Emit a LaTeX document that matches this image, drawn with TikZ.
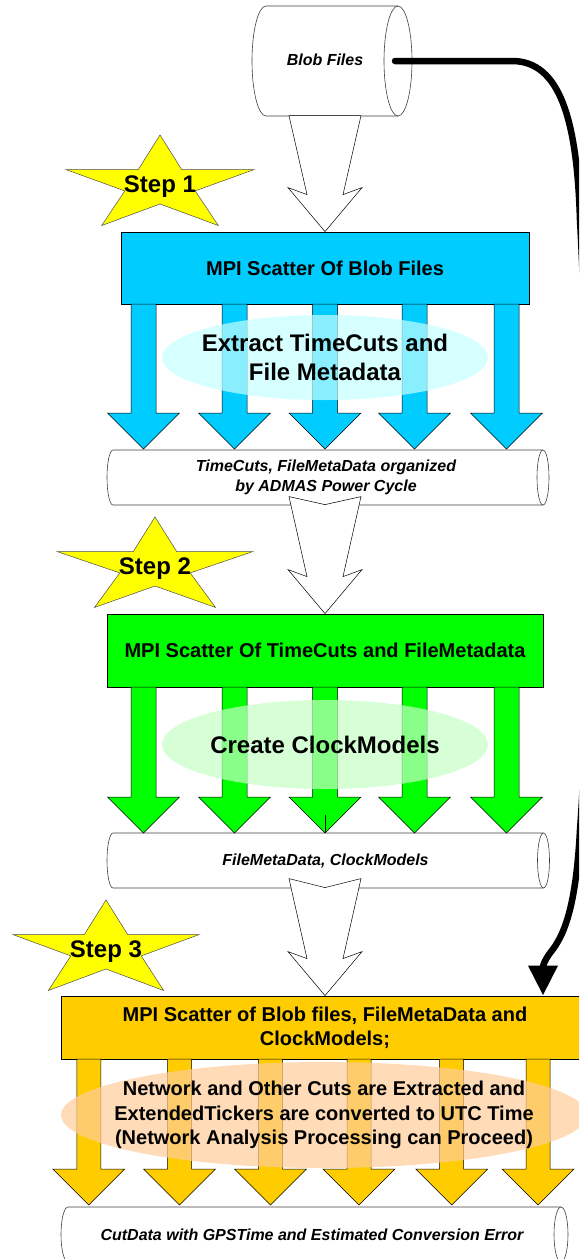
\documentclass[tikz,border=0pt]{standalone}
\usepackage{fontspec}
\setmainfont{Liberation Sans}
\usetikzlibrary{calc,arrows.meta}

\definecolor{scancyan}{HTML}{00CCFF}
\definecolor{scangreen}{HTML}{00FF00}
\definecolor{scanamber}{HTML}{FFCC00}
\definecolor{starfill}{HTML}{FFFF00}
\definecolor{haloblue}{HTML}{C4FFFF}
\definecolor{halogreen}{HTML}{C4FFC4}
\definecolor{halopeach}{HTML}{FFCC99}

\begin{document}
\begin{tikzpicture}[x=1pt,y=-1pt,
    scatterbox/.style={draw=black, line width=0.8pt, inner sep=0pt, align=center,
        font=\bfseries\fontsize{20}{24}\selectfont},
    store/.style={draw=black!75, line width=0.6pt, fill=white},
    storetext/.style={inner sep=0pt, align=center, font=\bfseries\itshape\fontsize{16}{19.5}\selectfont},
    halo/.style={fill opacity=0.7},
    halotext/.style={align=center, inner sep=0pt},
    chunk/.style={draw=black, line width=0.5pt},
    hollow/.style={draw=black, line width=0.5pt, fill=white},
    stepstar/.style={draw=black!70, line width=0.5pt, fill=starfill},
    steplabel/.style={font=\bfseries\fontsize{24}{28}\selectfont},
    feed/.style={line width=6.5pt, line cap=round, -{Triangle[length=30pt,width=28pt]}}
]
    \clip (0,0) rectangle (579,1259);

    % data stores (lying cylinders): left bulge, end radius, right end, top, bottom
    \foreach \l/\xr/\r/\t/\b in {252/14/398/6/116,107/6/543/450/505,107/6/543.5/833/888,61/7/561/1207/1262} {
        \pgfmathsetmacro{\yr}{(\b-\t)/2}
        \draw[store] (\l+\xr,\t) -- (\r,\t) arc[start angle=90, end angle=-90, x radius=\xr pt, y radius=\yr pt]
            -- (\l+\xr,\b) arc[start angle=270, end angle=90, x radius=\xr pt, y radius=\yr pt] -- cycle;
        \draw[store, fill=none] (\r,\t) arc[start angle=90, end angle=270, x radius=\xr pt, y radius=\yr pt];
    }
    \node[storetext] (blob) at (325,60) {Blob Files};

    % Step 1
    \node[scatterbox, fill=scancyan, minimum width=408pt, minimum height=72pt] (scatter1) at (325,268) {MPI Scatter Of Blob Files};
    \foreach \x in {143.5,234.5,325,414.5,506.5}
        \draw[chunk, fill=scancyan] (\x-12.5,304) -- (\x+12.5,304) -- (\x+12.5,413) -- (\x+36,413)
            -- (\x,449) -- (\x-36,413) -- (\x-12.5,413) -- cycle;
    \path[halo, fill=haloblue] (325,357.5) ellipse [x radius=163pt, y radius=42.5pt];
    \node[halotext, font=\bfseries\fontsize{24}{29}\selectfont] (extract) at (325,357.5) {Extract TimeCuts and\\File Metadata};
    \node[storetext] (timecuts) at (326,477.5) {TimeCuts, FileMetaData organized\\by ADMAS Power Cycle};

    % Step 2
    \node[scatterbox, fill=scangreen, minimum width=436pt, minimum height=73pt] (scatter2) at (325,650.5) {MPI Scatter Of TimeCuts and FileMetadata};
    \foreach \x in {143.5,234.5,325,414.5,506.5}
        \draw[chunk, fill=scangreen] (\x-12.5,687) -- (\x+12.5,687) -- (\x+12.5,797) -- (\x+36,797)
            -- (\x,833) -- (\x-36,797) -- (\x-12.5,797) -- cycle;
    \draw[line width=0.6pt] (325,815) -- (325,833);
    \path[halo, fill=halogreen] (325,744.5) ellipse [x radius=163pt, y radius=44.5pt];
    \node[halotext, font=\bfseries\fontsize{24}{29}\selectfont] (clock) at (325,744.5) {Create ClockModels};
    \node[storetext] (clockstore) at (325.5,860.5) {FileMetaData, ClockModels};

    % Step 3
    \node[scatterbox, fill=scanamber, minimum width=528pt, minimum height=63pt] (scatter3) at (325,1027.5)
        {MPI Scatter of Blob files, FileMetaData and\\ClockModels;};
    \foreach \x in {88.8,179.5,270.5,359,451.7,538}
        \draw[chunk, fill=scanamber] (\x-12,1059) -- (\x+12,1059) -- (\x+12,1169) -- (\x+36,1169)
            -- (\x,1205) -- (\x-36,1169) -- (\x-12,1169) -- cycle;
    \path[halo, fill=halopeach] (324,1115) ellipse [x radius=263pt, y radius=53pt];
    \node[halotext, font=\bfseries\fontsize{20}{24.5}\selectfont] (network) at (324,1115)
        {Network and Other Cuts are Extracted and\\ExtendedTickers are converted to UTC Time\\(Network Analysis Processing can Proceed)};
    \node[storetext] (cutdata) at (312,1235) {CutData with GPSTime and Estimated Conversion Error};

    % hollow arrows between the stages
    \foreach \b/\h/\n in {scatter1/116/0,scatter2/117/8,scatter3/117/9}
        \draw[hollow, shift={(\b.north)}] (-36,-\h) -- (0,-\h+\n) -- (36,-\h) -- (18,-37) -- (37,-44)
            -- (0,0) -- (-37,-44) -- (-18,-37) -- cycle;

    % stars
    \foreach \cx/\cy/\r/\k in {160/185/99/1,155/567/103/2,106/950/98/3} {
        \draw[stepstar] ($(\cx,\cy)+(270:{\r} and 50)$)
            \foreach \i in {0,...,4} { -- ($(\cx,\cy)+(306+72*\i:37 and 19)$) -- ($(\cx,\cy)+(342+72*\i:{\r} and 50)$) } -- cycle;
        \node[steplabel] (step\k) at (\cx,\cy+2) {Step \k};
    }

    % Blob files go straight to step 3
    \coordinate (blobout) at (395,61);
    \draw[feed] (blobout) -- (512,61) .. controls (560,61) and (577,120) .. (580,220)
        .. controls (590,400) and (590,700) .. (580,830)
        .. controls (576,905) and (565,935) .. (550,953)
        .. controls (545,960) and (543,965) .. ($(scatter3.north)+(218,0)$);
\end{tikzpicture}
\end{document}
